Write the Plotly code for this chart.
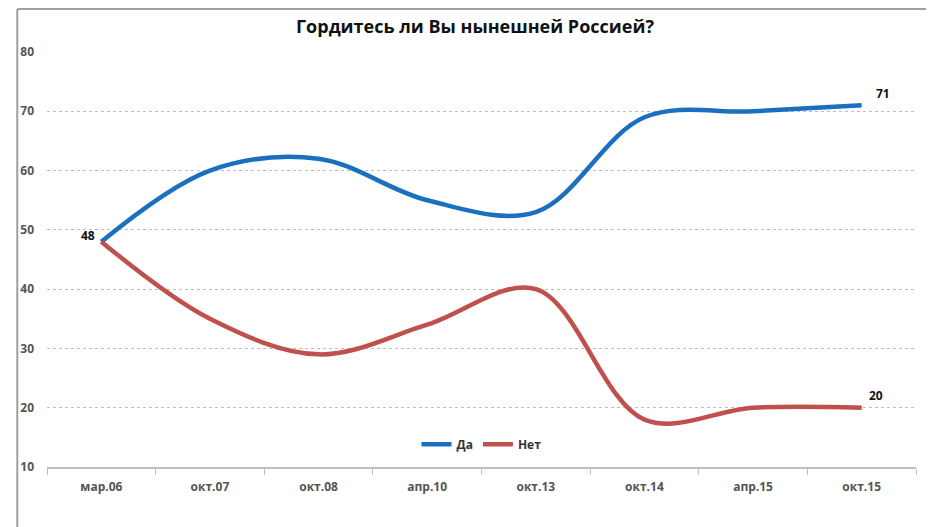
import plotly.graph_objects as go

categories = ["мар.06", "окт.07", "окт.08", "апр.10", "окт.13", "окт.14", "апр.15", "окт.15"]
da = [48, 60, 62, 55, 53, 69, 70, 71]
net = [48, 35, 29, 34, 40, 18, 20, 20]
y_ticks = [10, 20, 30, 40, 50, 60, 70, 80]

L, R, T, B = 31, 26, 44, 68
W, H = 934, 527
pw, ph = W - L - R, H - T - B

fig = go.Figure()
fig.add_trace(go.Scatter(x=categories, y=da, name="Да", mode="lines",
                         line=dict(color="#1A6FC0", width=4.5, shape="spline", smoothing=1.0)))
fig.add_trace(go.Scatter(x=categories, y=net, name="Нет", mode="lines",
                         line=dict(color="#C0504D", width=4.5, shape="spline", smoothing=1.0)))

lab_font = dict(family="Open Sans, DejaVu Sans, sans-serif", size=12, color="#111111", weight="bold")
fig.add_annotation(x=categories[0], y=da[0], text="48", showarrow=False,
                   xanchor="right", xshift=-4, yshift=6, font=lab_font)
fig.add_annotation(x=categories[-1], y=da[-1], text="71", showarrow=False,
                   xanchor="left", xshift=12, yshift=12, font=lab_font)
fig.add_annotation(x=categories[-1], y=net[-1], text="20", showarrow=False,
                   xanchor="left", xshift=5, yshift=12, font=lab_font)

fig.update_layout(
    width=W, height=H,
    margin=dict(l=L, r=R, t=T, b=B),
    paper_bgcolor="white", plot_bgcolor="white",
    title=dict(text="<b>Гордитесь ли Вы нынешней Россией?</b>", x=0.5, xanchor="center",
               y=1 - 19 / H, yanchor="middle",
               font=dict(family="Open Sans, DejaVu Sans, sans-serif", size=18, color="#111111")),
    font=dict(family="Open Sans, DejaVu Sans, sans-serif", color="#555555"),
    showlegend=True,
    legend=dict(orientation="h", x=0.5, xanchor="center", y=0.02, yanchor="bottom",
                bgcolor="rgba(0,0,0,0)", font=dict(size=12, color="#333333", weight="bold"),
                itemwidth=30, traceorder="normal"),
    xaxis=dict(type="category", range=[-0.5, 7.5], showgrid=False,
               showline=True, linecolor="#BFBFBF", linewidth=1.5,
               ticks="outside", tickson="boundaries", ticklen=6, tickcolor="#BFBFBF",
               ticklabelstandoff=8,
               tickfont=dict(size=12, color="#555555", weight="bold")),
    yaxis=dict(range=[10, 80], tickvals=y_ticks, showgrid=True, gridcolor="#BDBDBD",
               griddash="3px,3px", gridwidth=1, zeroline=False, showline=False,
               ticks="", ticklabelstandoff=12,
               tickfont=dict(size=12, color="#555555", weight="bold")),
)
# frame lines (top and left edges of the chart area)
fx0 = -L / pw + 1 / pw
fy1 = 1 + T / ph - 1 / ph
fy0 = -B / ph
fig.add_shape(type="line", xref="paper", yref="paper", x0=fx0, x1=1 + R / pw, y0=fy1, y1=fy1,
              line=dict(color="#A0A0A0", width=2))
fig.add_shape(type="line", xref="paper", yref="paper", x0=fx0, x1=fx0, y0=fy0, y1=fy1,
              line=dict(color="#A0A0A0", width=2))

fig.write_html("out.html")
